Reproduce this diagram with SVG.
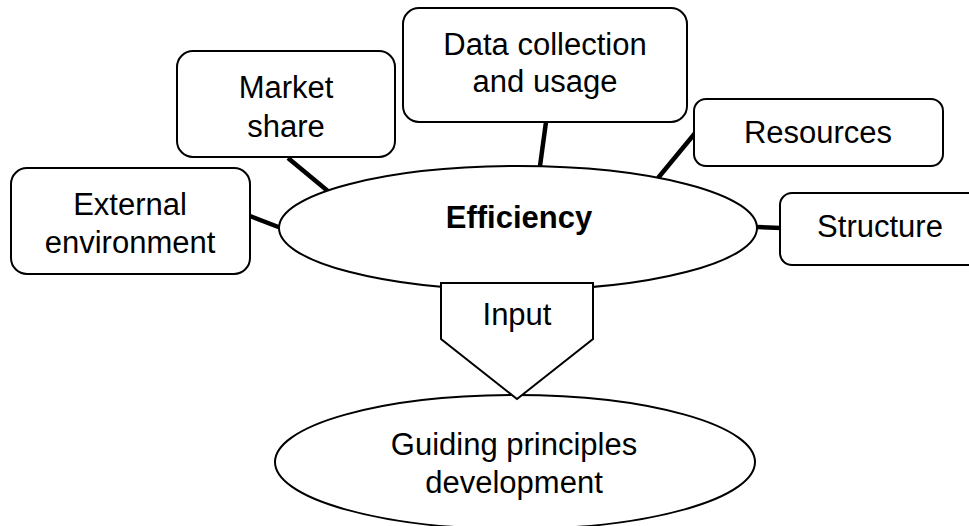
<svg xmlns="http://www.w3.org/2000/svg" width="969" height="526" viewBox="0 0 969 526">
<style>
.box{fill:#fff;stroke:#000;stroke-width:2}
.t{font-family:"Liberation Sans",Arial,sans-serif;font-size:31px;fill:#000;text-anchor:middle}
.b{font-weight:bold}
.c{stroke:#000;stroke-width:4.5;fill:none}
</style>
<rect width="969" height="526" fill="#fff"/>
<g id="connectors">
<line class="c" x1="250" y1="216" x2="281" y2="228"/>
<line class="c" x1="288" y1="158" x2="329" y2="192"/>
<line class="c" x1="546" y1="122" x2="540" y2="166"/>
<line class="c" x1="696" y1="132" x2="658" y2="178"/>
<line class="c" x1="756" y1="227" x2="781" y2="228"/>
</g>
<g id="efficiency">
<ellipse class="box" cx="518" cy="228" rx="239" ry="62"/>
<text class="t b" x="519" y="228">Efficiency</text>
</g>
<g id="external">
<rect class="box" x="11" y="168" width="239" height="106" rx="16"/>
<text class="t" x="130" y="215">External</text>
<text class="t" x="130" y="253">environment</text>
</g>
<g id="market">
<rect class="box" x="177" y="51" width="218" height="106" rx="16"/>
<text class="t" x="286" y="98">Market</text>
<text class="t" x="286" y="137">share</text>
</g>
<g id="data">
<rect class="box" x="403" y="8" width="284" height="114" rx="16"/>
<text class="t" x="545" y="55">Data collection</text>
<text class="t" x="545" y="92">and usage</text>
</g>
<g id="resources">
<rect class="box" x="694" y="99" width="249" height="67" rx="12"/>
<text class="t" x="818" y="143">Resources</text>
</g>
<g id="structure">
<rect class="box" x="780" y="193" width="200" height="72" rx="12"/>
<text class="t" x="880" y="237">Structure</text>
</g>
<g id="guiding">
<ellipse class="box" cx="515" cy="462" rx="240" ry="67"/>
<text class="t" x="514" y="455">Guiding principles</text>
<text class="t" x="514" y="493">development</text>
</g>
<g id="input">
<polygon class="box" points="441,283 593,283 593,339 517,399 441,339"/>
<text class="t" x="517" y="325">Input</text>
</g>
</svg>
